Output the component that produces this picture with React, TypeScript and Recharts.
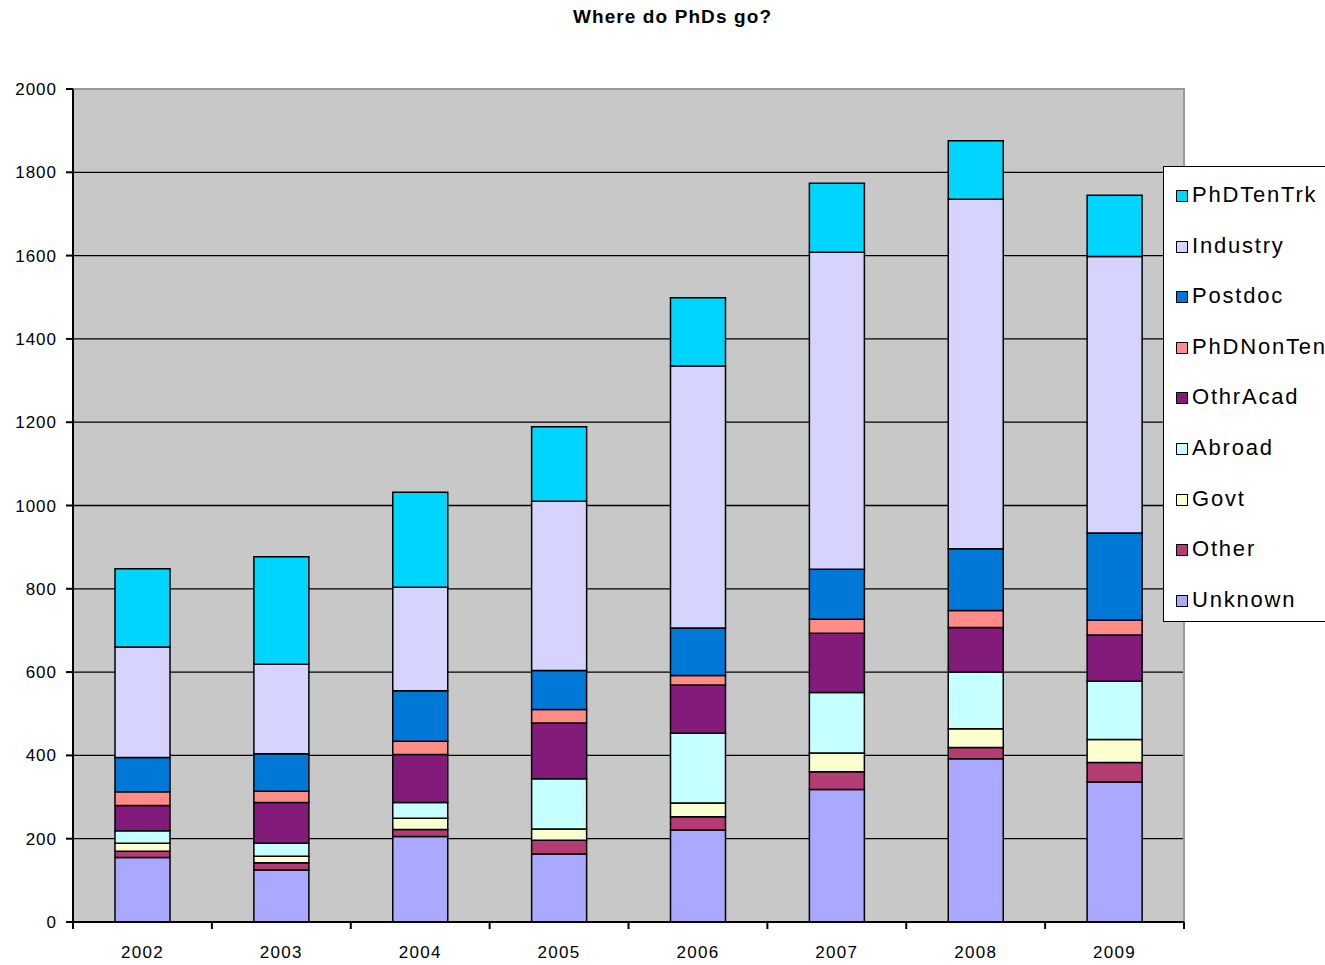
import React from 'react';
import { BarChart, Bar, XAxis, YAxis, CartesianGrid, Legend, ReferenceArea } from 'recharts';

const years = ['2002', '2003', '2004', '2005', '2006', '2007', '2008', '2009'];
const unknown = [155, 125, 205, 163, 221, 318, 392, 336];
const other = [15, 17, 17, 33, 32, 43, 27, 47];
const govt = [19, 16, 27, 27, 33, 45, 45, 55];
const abroad = [30, 31, 38, 121, 167, 145, 136, 140];
const othrAcad = [61, 98, 115, 134, 116, 142, 107, 111];
const phdNonTen = [33, 27, 32, 32, 23, 34, 41, 36];
const postdoc = [82, 90, 121, 94, 114, 120, 148, 209];
const industry = [265, 215, 249, 406, 629, 761, 839, 664];
const phdTenTrk = [188, 258, 228, 179, 164, 166, 141, 147];
const yTicks = [0, 200, 400, 600, 800, 1000, 1200, 1400, 1600, 1800, 2000];
const gridValues = [200, 400, 600, 800, 1000, 1200, 1400, 1600, 1800];

// bottom to top
const seriesNames = ['Unknown', 'Other', 'Govt', 'Abroad', 'OthrAcad', 'PhDNonTen', 'Postdoc', 'Industry', 'PhDTenTrk'];
const seriesValues = [unknown, other, govt, abroad, othrAcad, phdNonTen, postdoc, industry, phdTenTrk];
const seriesColors = ['#ABA9FF', '#B43C72', '#FAFFD0', '#C6FFFF', '#831B7A', '#FF8C86', '#0078D8', '#D6D3FF', '#00D5FF'];

const data = years.map((year, i) => {
  const row: Record<string, string | number> = { year };
  seriesNames.forEach((name, s) => {
    row[name] = seriesValues[s][i];
  });
  return row;
});

const FONT = '"Liberation Sans", Arial, Helvetica, sans-serif';

const XTick = (props: any) => {
  const { x, y, payload, index, width, visibleTicksCount } = props;
  const count = visibleTicksCount || years.length;
  const half = (width || 1111) / count / 2;
  return (
    <g>
      {index === 0 && <line x1={x - half} y1={y} x2={x - half} y2={y + 7} stroke="#000" strokeWidth={2} />}
      <line x1={x + half} y1={y} x2={x + half} y2={y + 7} stroke="#000" strokeWidth={2} />
      <text x={x} y={y + 36} textAnchor="middle" fontFamily={FONT} fontSize={17} letterSpacing={1.3} fill="#000">
        {payload.value}
      </text>
    </g>
  );
};

const LegendContent = (props: any) => {
  const payload = (props.payload || []).slice();
  const ordered = seriesNames
    .slice()
    .reverse()
    .map((n) => payload.find((p: any) => p.value === n || p.dataKey === n))
    .filter(Boolean);
  return (
    <div
      style={{
        width: 200,
        height: 456,
        background: '#fff',
        border: '1.5px solid #000',
        boxSizing: 'border-box',
        paddingTop: 13,
      }}
    >
      {ordered.map((p: any) => (
        <div key={p.value} style={{ height: 50.6, display: 'flex', alignItems: 'flex-start' }}>
          <div
            style={{
              width: 10,
              height: 10,
              background: p.color,
              border: '1.5px solid #000',
              marginLeft: 12,
              marginTop: 10,
              flexShrink: 0,
            }}
          />
          <span
            style={{
              fontFamily: FONT,
              fontSize: 22,
              letterSpacing: 1.8,
              color: '#000',
              marginLeft: 4,
              lineHeight: '30px',
              whiteSpace: 'nowrap',
            }}
          >
            {p.value}
          </span>
        </div>
      ))}
    </div>
  );
};

export default function App() {
  return (
    <div style={{ position: 'absolute', left: 0, top: 0, width: 1325, height: 965, overflow: 'hidden', background: '#fff' }}>
      <div
        style={{
          position: 'absolute',
          left: 0,
          top: 6,
          width: 1345,
          textAlign: 'center',
          fontFamily: FONT,
          fontWeight: 'bold',
          fontSize: 19,
          letterSpacing: 1.1,
          color: '#000',
        }}
      >
        Where do PhDs go?
      </div>
      <BarChart
        width={1325}
        height={965}
        data={data}
        margin={{ top: 89, right: 141, bottom: 0, left: 0 }}
        barSize={55}
      >
        <CartesianGrid
          vertical={false}
          horizontalValues={gridValues}
          stroke="#000"
          strokeWidth={1.3}
          fill="#C8C8C8"
          fillOpacity={1}
        />
        <ReferenceArea y1={0} y2={2000} fill="none" stroke="#999999" strokeWidth={2} ifOverflow="visible" />
        <XAxis
          dataKey="year"
          tick={<XTick />}
          tickLine={false}
          tickSize={0}
          tickMargin={0}
          height={43}
          axisLine={{ stroke: '#000', strokeWidth: 2 }}
          interval={0}
        />
        <YAxis
          domain={[0, 2000]}
          ticks={yTicks}
          width={73}
          tickSize={7}
          tickMargin={9}
          tickLine={{ stroke: '#000', strokeWidth: 2 }}
          axisLine={{ stroke: '#000', strokeWidth: 2 }}
          tick={{ fill: '#000', fontFamily: FONT, fontSize: 17, letterSpacing: 1 }}
          interval={0}
          allowDataOverflow
        />
        {seriesNames.map((name, s) => (
          <Bar
            key={name}
            dataKey={name}
            name={name}
            stackId="a"
            fill={seriesColors[s]}
            stroke="#000"
            strokeWidth={1.5}
            isAnimationActive={false}
          />
        ))}
        <Legend
          content={<LegendContent />}
          layout="vertical"
          align="center"
          verticalAlign="middle"
          wrapperStyle={{ position: 'absolute', left: 1163, top: 166, width: 200, height: 456 }}
        />
      </BarChart>
    </div>
  );
}
